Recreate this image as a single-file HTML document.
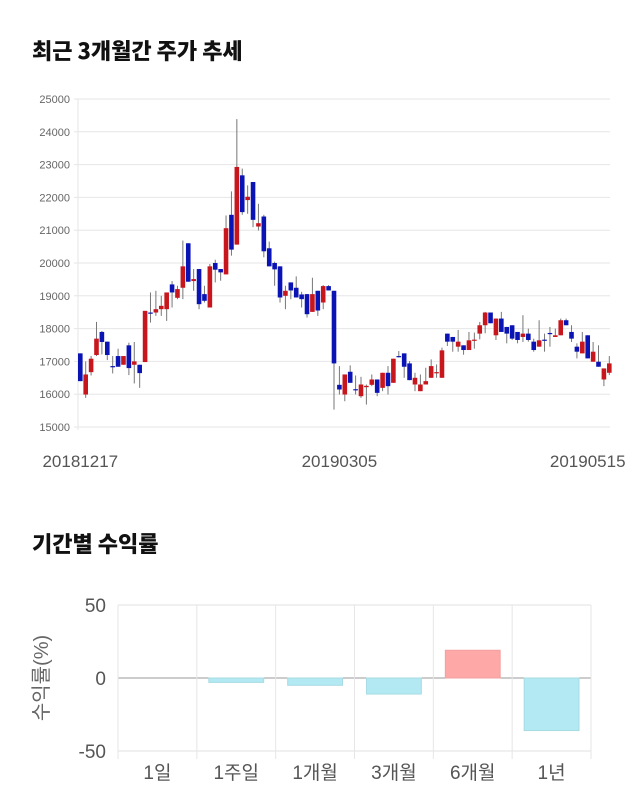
<!DOCTYPE html>
<html><head><meta charset="utf-8">
<style>
body{margin:0;background:#fff;width:640px;height:810px;overflow:hidden;font-family:"Liberation Sans","Noto Sans CJK KR",sans-serif;}
.title{position:absolute;left:32px;font-size:22px;font-weight:900;color:#111;font-family:"Noto Sans CJK KR","Liberation Sans",sans-serif;}
svg{position:absolute;left:0;top:0;}
</style></head><body>
<div class="title" style="top:34px">최근 3개월간 주가 추세</div>
<div class="title" style="top:527px">기간별 수익률</div>
<svg id="c" width="640" height="810"></svg>
<script>
// OHLC data
const opens=[17245,15990,16673,17194,17898,17602,16857,17163,16898,17490,16898,16898,16980,18490,18490,18592,18592,19347,18939,19245,20602,19449,19816,19051,18643,20000,19816,19653,21469,20561,22673,21918,22469,21112,21418,20449,20000,19898,19000,19408,19245,19041,19051,18510,19153,18796,19296,19153,16286,15990,16684,16153,15939,16214,16286,16449,16194,16653,16347,17163,17245,16939,16296,16092,16296,16500,16653,16500,17847,17745,17449,17490,17347,17643,17847,18102,18490,17796,18306,18051,18102,17898,17745,17847,17602,17449,17663,17867,17745,17796,18255,17898,17449,17245,17796,16990,16990,16449,16653];
const closes=[16398,16602,17082,17694,17592,17194,16827,16837,17163,16796,17000,16643,18541,18459,18592,18694,19102,19102,19204,19898,19429,19510,18745,18847,19898,19796,19714,21061,20408,22929,21551,22020,21316,21214,20357,19898,19806,18949,19153,19163,18949,18898,18439,19051,18551,19296,19163,16939,16143,16602,16347,16122,16296,16255,16449,16041,16653,16245,17082,17143,16837,16429,16500,16296,16398,16857,16673,17337,17602,17602,17602,17347,17643,17663,18102,18490,18163,18306,17898,17847,17694,17653,17847,17653,17347,17643,17643,17847,17796,18255,18102,17694,17296,17602,17092,17296,16837,16786,16939];
const highs=[17245,17000,17163,18204,17929,17602,17163,17388,17163,17571,17592,16898,18541,19102,19153,19000,19102,19449,19306,20684,20602,19816,19816,19306,19970,20100,19816,21449,22184,24388,22878,22367,22469,21806,21469,20653,20041,19898,19306,19408,19592,19122,19051,19551,19153,19327,19327,19153,16857,16602,16878,16571,16530,16296,16602,16449,16653,16857,17082,17316,17245,17010,16653,16602,16806,17061,16908,17418,17847,17745,17959,17490,17898,17878,18204,18510,18490,18306,18510,18051,18102,17898,18408,18000,17694,18255,17847,18051,18000,18306,18306,18102,17551,17898,17796,17592,17490,16786,17163];
const lows=[16398,15888,16571,17163,17214,17041,16633,16837,16898,16582,16327,16194,16980,18184,18388,18388,18235,18643,18898,18898,19429,19153,18592,18796,18643,19408,19459,19653,20224,20561,21469,21500,21092,20990,20173,19898,19306,18796,18592,18898,18949,18643,18337,18510,18388,18592,19163,15531,15990,15786,16347,15990,15888,15684,16245,15939,16092,15990,16347,17122,16500,16429,16092,16092,16296,16500,16500,16500,17469,17296,17296,17204,17347,17388,17673,17857,18163,17653,17898,17551,17653,17551,17592,17602,17296,17449,17296,17449,17745,17796,18102,17592,17092,17245,17092,16990,16837,16245,16582];
const yTicks=[15000,16000,17000,18000,19000,20000,21000,22000,23000,24000,25000];
const dateLabels=["20181217","20190305","20190515"];
const dateIdx=[0,48,94];
// returns data
const cats=["1일","1주일","1개월","3개월","6개월","1년"];
const rets=[0,-3,-5,-11,19,-36];
const rTicks=[50,0,-50];

const svg=document.getElementById('c');
const NS='http://www.w3.org/2000/svg';
function mk(t,a,p){const e=document.createElementNS(NS,t);for(const k in a)e.setAttribute(k,a[k]);(p||svg).appendChild(e);return e;}
const py=v=>427-(v-15000)/10000*328;
const px=i=>80.3+i*5.398;
yTicks.forEach(v=>{
  const l=mk('line',{x1:74,x2:610,y1:py(v),y2:py(v),stroke:'#e6e6e6'});
  
  
  const t=mk('text',{x:70,y:py(v)+4,'text-anchor':'end','font-size':11,fill:'#666'});
  t.textContent=v;
  
  
});
mk('line',{x1:78,x2:78,y1:99,y2:430,stroke:'#e6e6e6'});
dateLabels.forEach((s,k)=>{
  const t=mk('text',{x:px(dateIdx[k]),y:467,'text-anchor':'middle','font-size':17,fill:'#555'});
  t.textContent=s;
  
  
});
opens.forEach((o,i)=>{
  const c=closes[i],up=c>=o,col=up?'#c8161d':'#0a14b4';
  const x=px(i);
  const w=mk('line',{x1:x,x2:x,y1:py(highs[i]),y2:py(lows[i]),stroke:'#777','stroke-width':1});
  
  
  const top=py(Math.max(o,c)),h=Math.max(1.2,Math.abs(py(o)-py(c)));
  const r=mk('rect',{x:x-2.3,y:top,width:4.6,height:h,fill:col});
  
  
});
const L=118,R=591,cw=(R-L)/cats.length;
const ry=v=>678-v*73/50;
rTicks.forEach(v=>{
  const l=mk('line',{x1:L,x2:R,y1:ry(v),y2:ry(v),stroke:v===0?'#999':'#e2e2e2'});
  
  
  const t=mk('text',{x:106,y:ry(v)+7,'text-anchor':'end','font-size':19,fill:'#555'});
  t.textContent=v;
  
  
});
for(let k=0;k<=cats.length;k++){
  const l=mk('line',{x1:L+k*cw,x2:L+k*cw,y1:ry(50),y2:ry(-50)+8,stroke:'#e6e6e6'});
  
  
}
cats.forEach((c,k)=>{
  const v=rets[k];
  if(v!==0){
    const b=mk('rect',{x:L+k*cw+12,y:Math.min(ry(v),ry(0)),width:cw-24,height:Math.abs(ry(v)-ry(0)),fill:v>0?'#ffa8a8':'#b2e9f3',stroke:v>0?'#f2a0a0':'#a8dbe3'});
    
    
  }
  const t=mk('text',{x:L+(k+.5)*cw,y:779,'text-anchor':'middle','font-size':19,fill:'#555'});
  t.textContent=c;
  
  
});
const at=mk('text',{x:0,y:0,'text-anchor':'middle','font-size':20,fill:'#666',transform:'translate(48,678) rotate(-90)'});
at.textContent='수익률(%)';


</script>
</body></html>
